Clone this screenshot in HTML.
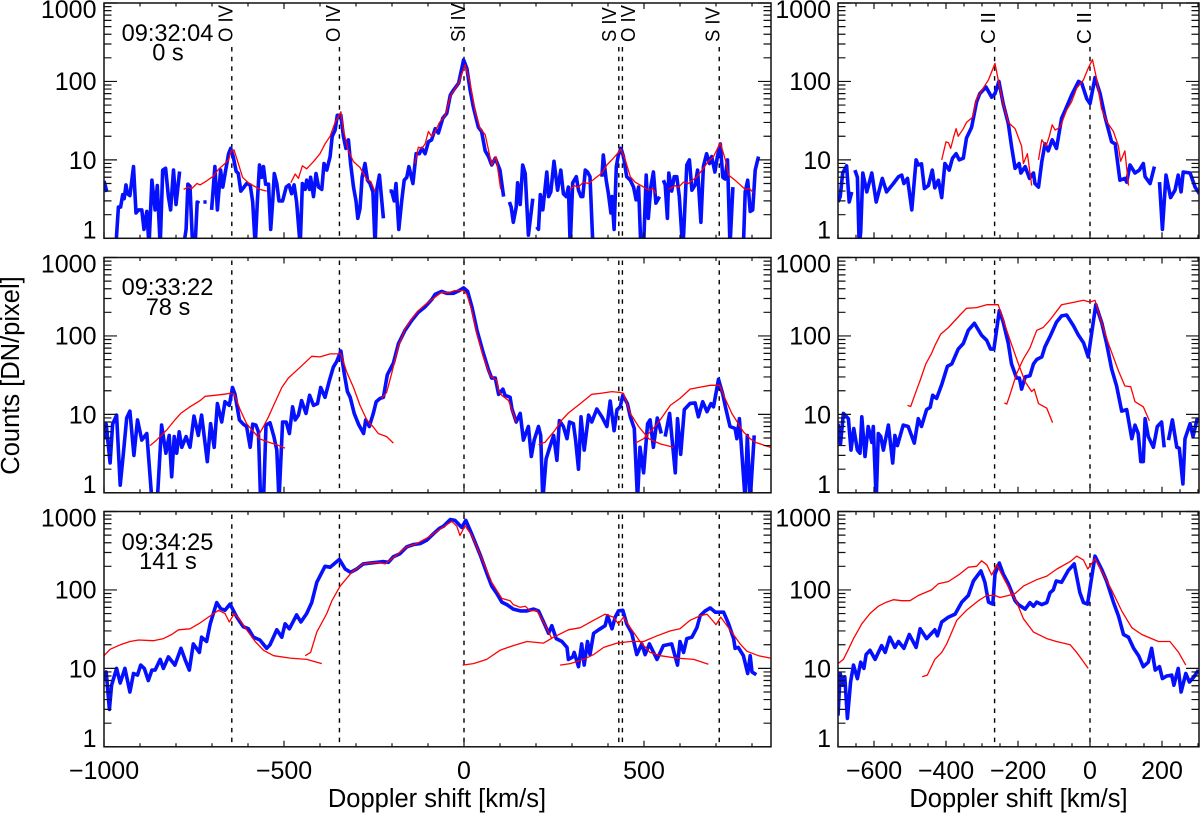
<!DOCTYPE html>
<html lang="en">
<head>
<meta charset="utf-8">
<title>Doppler shift spectra</title>
<style>
html,body{margin:0;padding:0;background:#fff;width:1200px;height:813px;overflow:hidden}
svg{display:block}
text{font-family:"Liberation Sans",sans-serif;fill:#000}
</style>
</head>
<body>
<svg id="chart" xmlns="http://www.w3.org/2000/svg" width="1200" height="813" viewBox="0 0 1200 813">
<rect width="1200" height="813" fill="#fff"/>
<g id="marks"></g>
<g font-size="23.6" text-anchor="middle">
<text x="167.5" y="41">09:32:04</text>
<text x="168" y="60.5">0 s</text>
<text x="167.5" y="295">09:33:22</text>
<text x="168" y="315">78 s</text>
<text x="167.5" y="550">09:34:25</text>
<text x="168" y="569">141 s</text>
</g>
<g font-size="20.5">
<text transform="translate(232.5,42) rotate(-90) scale(.9,1)">O IV</text>
<text transform="translate(340,42) rotate(-90) scale(.9,1)">O IV</text>
<text transform="translate(465,42) rotate(-90) scale(.9,1)">Si IV</text>
<text transform="translate(616,42) rotate(-90) scale(.9,1)">S IV</text>
<text transform="translate(635,42) rotate(-90) scale(.9,1)">O IV</text>
<text transform="translate(719.5,42) rotate(-90) scale(.9,1)">S IV</text>
<text transform="translate(995,44) rotate(-90)">C II</text>
<text transform="translate(1091,44) rotate(-90)">C II</text>
</g>
<text x="437" y="807" font-size="25.5" text-anchor="middle">Doppler shift [km/s]</text>
<text x="1018.5" y="807" font-size="25.5" text-anchor="middle">Doppler shift [km/s]</text>
<text transform="translate(19,375.5) rotate(-90)" font-size="25.5" text-anchor="middle">Counts [DN/pixel]</text>
</svg>
<script>
const blueTopLeft=[[-1000,5.4],[-992,3.9],null,[-967,.8],[-960,2.5],[-954,2.5],[-948,3.6],[-944,3.2],[-939,4.8],[-935,3.7],[-928,3.5],[-918,8.2],[-911,2.1],[-904,2.3],[-895,2.3],[-889,1.3],[-881,2.2],[-875,.8],[-867,5.5],[-858,2.3],[-852,4.7],[-844,.8],[-837,7.4],[-829,7.8],[-821,3.4],[-815,2.3],[-807,7.4],[-800,2.7],[-790,7.1],null,[-779,.8],[-772,1.3],[-767,4.9],[-761,4.6],[-754,.8],[-747,.8],[-741,2.9],[-735,2.8],null,[-724,2.9],[-715,2.9],null,[-701,2.3],[-692,8.2],[-685,2.3],[-676,7.4],[-670,4.5],[-661,7.8],[-654,12],[-648,14],[-641,11],[-633,7.2],[-627,6.7],[-620,4],[-611,4.5],[-604,5],[-594,4.8],[-587,2.9],[-580,.8],[-574,3],[-568,8.6],[-562,6],[-557,8.2],[-551,4.9],[-543,4.9],[-537,1.3],[-531,3.1],[-527,6.7],[-520,5],[-514,3],[-504,3],[-494,4.5],[-486,4.8],[-479,3.7],[-472,4.8],[-465,2.9],[-455,.8],[-449,5],[-441,4.2],[-437,5.5],[-429,4.2],[-426,6],[-418,3.4],[-411,6.7],[-404,4.5],[-395,4.2],[-389,9],[-381,7.4],[-372,11],[-366,20],[-358,24],[-352,37],[-342,37],[-335,20],[-328,14],[-321,18],[-315,9],[-307,4.5],[-300,3],[-295,1.8],[-289,2.4],[-283,6],[-275,9],[-268,5.5],[-261,5],[-253,3.9],[-247,.8],[-242,4.3],[-235,6.4],[-224,1.8],null,[-207,4],[-201,4],[-194,3],[-189,5],[-181,1.3],[-173,3],[-166,5.5],[-159,6],[-153,8.2],[-142,5],[-133,12],[-124,12],[-117,14],[-108,12],[-99,17],[-90,18],[-80,25],[-71,22],[-59,34],[-48,39],[-38,67],[-29,78],[-15,95],[-1,188],[8,146],[17,78],[26,47],[40,26],[49,23],[59,13],[68,11],[77,8.6],[87,10.5],[100,7.4],[110,3.4],null,[126,2.9],[131,2.5],[137,1.6],[145,2.5],[149,5.1],[156,2.7],[163,8.6],[170,6.7],[179,1.1],[184,1.7],[191,3.2],null,[202,1.4],[207,1.3],[212,3.6],[219,2.3],[230,7],[235,3.4],[241,3.9],[250,9.6],[260,4.1],[269,7.4],[276,3.7],[284,3.4],[290,4.5],[295,.8],[302,5.1],[312,6.1],[318,4.1],[325,3.4],[330,3.4],[337,7.4],[343,7],[350,6.1],[358,.8],null,[383,6.1],[387,11.5],[395,5.5],[401,3.7],[408,2.1],[411,3.4],[417,1.3],[423,8.2],[429,11.5],[436,14],[443,11],[452,6.1],[462,5.5],[471,4.5],[478,3.1],[485,4.5],[491,.8],[499,.8],[506,6.4],[512,1.8],[519,4.5],[526,7],[533,2.8],[543,3.4],null,[554,5.5],[559,4.8],[565,1.8],[569,6.8],[577,4],[584,6.1],[591,6.1],[598,3.4],[607,.8],[610,1.1],[619,8.6],[626,10],[633,4.1],[642,4.8],[649,7.4],[658,1.6],[665,8.2],[674,12],[682,9],[688,11],[697,7],[704,11],[712,16],[719,6],[725,5.7],[732,10],[739,.8],[747,4.5],null,[776,.8],[781,3.9],[788,5.5],[795,2.2],[802,2.3],[809,7.4],[818,11]];
const redTopLeft=[[-779,4.2],[-766,4.5],[-756,4.3],[-742,5],[-733,4.8],[-715,5.4],[-696,6.2],[-682,7.6],[-664,9],[-654,10],[-647,13],[-639,13.4],[-630,10],[-615,6],[-599,5.1],[-567,4.2],[-548,4],null,[-481,5.1],[-469,6.6],[-460,5.8],[-449,8.4],[-437,7.7],[-418,9.5],[-400,12],[-386,16],[-372,20],[-358,30],[-342,41],[-335,24],[-321,13],[-307,9.5],[-289,8],[-270,5.6],[-259,5.3],[-247,3.9],null,[-136,9],[-127,14.5],[-117,14],[-108,16],[-99,23],[-90,20],[-80,23],[-68,30],[-52,37],[-37,67],[-15,95],[3,163],[17,95],[31,41],[45,25],[59,21],[77,8.6],[89,11],[102,4.2],null,[295,4.2],[306,4.7],[318,4.5],[332,5.2],[346,5],[364,5.8],[383,6.8],[397,8.6],[415,10.5],[436,13.6],[448,10],[462,6.1],[475,5.2],[499,4.5],[513,4.1],[525,4.3],[534,3.7],null,[568,4.2],[586,4.7],[596,4.5],[610,5.2],[623,5],[647,6.1],[665,7.8],[679,9.6],[693,11],[712,16.5],[726,10],[735,6.4],[753,5.5],[781,4.2],[793,4.3],[804,3.8]];
const blueTopRight=[[-700,2.9],[-694,3.4],[-687,6.8],[-676,8.4],[-669,2.9],[-662,3.9],null,[-653,7.4],[-646,6],[-641,.8],[-637,1.2],[-631,6.8],[-620,3.9],[-606,6.8],[-594,2.9],[-577,5.8],[-565,3.9],[-546,5],[-532,6.1],[-523,6.4],[-517,5],[-507,5.8],[-495,2.3],[-483,10],[-477,8.6],[-468,8.9],[-460,4.3],[-449,4.7],[-438,7.4],[-431,4.4],[-421,5.5],[-412,3.3],[-403,9],[-391,7.4],[-382,10.5],[-372,12],[-363,10],[-352,10.5],[-343,19],[-329,26],[-315,55],[-306,70],[-289,85],[-273,63],[-264,70],[-253,100],[-241,52],[-227,29],[-218,15],[-208,7.8],[-197,9],[-192,6.8],[-180,8.2],[-168,5.8],[-157,6.8],[-153,5],[-143,4.5],[-134,9.5],[-125,16],[-116,13],[-105,18],[-93,14],[-79,34],[-69,43],[-51,67],[-32,100],[-23,95],[-9,60],[0,52],[14,112],[28,70],[42,35],[60,17],[70,16],[83,5.5],[97,5.8],[102,5.2],[111,8.6],[125,6.8],[137,7.4],[148,9],[153,6.1],[167,5],[179,8.2],null,[193,5.2],[201,1.3],[211,6.4],[224,3.3],[236,4.1],[245,6.4],[253,3.9],[259,7],[278,6.8],[292,4.5],[304,3.7]];
const redTopRight=[[-412,10],[-400,17],[-393,16.5],[-387,14],[-379,19.5],[-372,25],[-366,20],[-352,25],[-343,30],[-326,35],[-315,60],[-296,83],[-282,105],[-264,170],[-255,105],[-241,52],[-227,30],[-208,25],[-190,15],[-185,9],[-174,12],[-162,4.7],null,[-143,10],[-134,18],[-122,15],[-113,20],[-105,28],[-97,24],[-83,26],[-65,43],[-51,55],[-37,82],[-18,105],[-5,147],[7,190],[19,105],[32,45],[46,31],[65,23],[79,15],[85,9.6],[97,13],[107,4.7]];
const blueMidLeft=[[-1000,4.8],[-994,7.5],[-983,2.4],[-976,7.5],[-965,9.8],[-955,1.25],[-946,3.2],[-937,9],[-928,11],[-917,3],[-907,8.5],[-895,4.7],[-881,5.7],[-867,.8],[-852,.8],[-840,7.3],[-828,3.2],[-819,5.4],[-812,1.6],[-805,5.2],[-798,3.2],[-791,6],[-784,3.8],[-772,5.2],[-761,3.8],[-750,9.5],[-738,5.4],[-729,9.8],[-713,2.5],[-704,7.6],[-694,3.8],[-685,13.7],[-673,8],[-664,14.5],[-652,13],[-643,22],[-636,18],[-624,8.5],[-613,7.5],[-604,7],[-594,3.8],[-587,7.5],[-578,7.3],[-571,6],[-565,.8],[-557,.8],[-550,7.3],[-539,7.8],[-528,5.2],[-520,3.5],[-514,.8],[-504,8],[-494,8],[-485,5.7],[-476,12.5],[-469,8.5],[-460,9.8],[-451,15],[-439,10.3],[-429,17.5],[-418,13],[-407,13.7],[-398,22],[-386,16.5],[-374,27],[-363,40],[-354,47],[-342,64],[-333,34],[-324,19.5],[-316,16.5],[-305,10.3],[-293,7.5],[-279,5.7],[-273,8.5],[-263,7],[-252,10.3],[-244,14.5],[-233,16],[-224,16.5],[-213,32],[-196,45],[-182,80],[-164,118],[-145,158],[-127,200],[-108,235],[-90,290],[-80,340],[-62,370],[-48,350],[-29,350],[-15,375],[-1,410],[10,370],[22,235],[36,118],[54,60],[68,37],[77,29],[87,29],[96,18],[108,21],[114,17.5],[128,16.5],[133,11.8],[145,8],[156,10.3],[165,4.7],[179,7],[187,2.9],[195,4.7],[207,7],[213,5.4],[219,.8],[228,2.7],[238,3.8],[249,5.4],[258,2.6],[265,8.3],[276,7],[286,4.9],[293,8],[304,7.6],[310,4.7],[318,2],[325,9.3],[334,3.5],[346,9.8],[355,8],[369,11.7],[383,9.3],[397,7],[406,14.8],[417,6.2],[425,11.5],[434,12.5],[441,17.5],[454,13.7],[462,9.3],[473,6.6],[482,.8],[489,3.8],[499,1.8],[510,7.6],[517,8.5],[526,3.8],[537,9],[548,5.7],null,[559,5.2],[571,10.3],[587,1.8],[593,8.8],[602,3.1],[612,11.5],[628,13.8],[642,14],[651,9.3],[663,14.5],[675,10.8],[686,13.7],[693,12.5],[707,28],[719,18],[726,12.5],[739,7],[753,6.6],[758,4.9],[765,8.8],[781,.8],[787,5.4],[795,.8],[806,5.4]];
const redMidLeft=[[-872,4],[-854,4.7],[-826,6.3],[-803,8.5],[-787,10.3],[-761,12.5],[-733,15],[-719,17],[-692,17.5],[-668,18],[-650,18.5],[-638,18],[-622,11.5],[-604,7.6],[-568,4.9],[-548,4.5],[-520,4.1],[-497,3.7],null,[-571,5.4],[-557,7],[-543,9.3],[-529,13],[-506,22],[-488,29],[-455,40],[-423,55],[-400,54],[-372,59],[-342,59],[-326,35],[-307,22],[-289,13],[-270,8.5],[-253,7],[-238,5.7],[-215,5.2],[-196,4.3],null,[-229,16],[-215,19],[-201,33],[-182,75],[-164,122],[-145,165],[-127,210],[-108,250],[-85,300],[-68,345],[-62,360],[-43,355],[-25,380],[-1,380],[8,340],[22,210],[36,105],[54,54],[73,31],[91,27],[96,20],[105,17.5],[124,15],[133,11.5],[145,8],null,[207,4.1],[225,4.4],[253,6.3],[272,8.5],[290,10.4],[323,13.7],[355,18],[378,18.5],[411,19.5],[434,19],[443,18.5],[462,10.3],[485,7],[513,4.9],[545,4.2],[582,3.8],null,[476,4.3],[499,4.9],[522,6.3],[545,8.5],[573,13],[600,16],[628,21],[651,22],[684,23.5],[710,23.5],[725,16],[744,10.3],[776,6],[795,4.9],[809,4.4],[851,3.8]];
const blueMidRight=[[-700,7.6],[-693,4.2],[-685,10.3],[-671,8.8],[-664,3.5],[-656,6.6],[-646,3.5],[-639,3.2],[-634,9.3],[-625,2.9],[-616,7],[-606,4.4],[-602,7],[-594,.8],[-588,5.7],[-581,5.2],[-574,3.5],[-560,7.3],[-548,2.4],[-542,5.4],[-535,4],[-519,7.3],[-505,7],[-488,4.3],[-477,8.8],[-468,7],[-454,11.5],[-444,12.3],[-437,17.5],[-426,16],[-412,24],[-396,41],[-384,44],[-366,68],[-352,80],[-338,118],[-321,145],[-301,102],[-287,88],[-276,68],[-267,68],[-252,210],[-241,150],[-227,80],[-218,44],[-204,29],[-196,29],[-190,21],[-180,30],[-167,31],[-157,44],[-148,50],[-134,54],[-125,73],[-111,98],[-93,150],[-79,180],[-65,185],[-46,135],[-32,102],[-18,82],[-5,54],[16,250],[33,145],[46,80],[60,38],[74,23],[88,11],[102,11.5],[116,4.9],[125,7.3],[134,5.7],[141,2.5],[148,2.5],[153,8.8],[162,5.2],[176,3.8],[187,7],[199,8],[206,3.8],null,[218,4.7],[229,8.5],[241,3.8],[248,3.7],[258,1.3],[264,4.9],[278,7.6],[286,5.2],[297,8.5],[304,8.5]];
const redMidRight=[[-507,13],[-498,12.6],[-486,18],[-472,27],[-456,44],[-440,60],[-431,75],[-415,105],[-393,128],[-361,185],[-343,225],[-315,230],[-287,250],[-264,250],[-255,250],[-241,160],[-222,88],[-199,44],[-180,26],[-162,19.5],[-155,21],[-143,13.7],[-120,12],[-104,7.8],null,[-238,14],[-231,13.5],[-222,18],[-204,33],[-185,51],[-167,70],[-148,118],[-130,128],[-111,160],[-79,250],[-51,265],[-18,285],[0,270],[14,285],[32,150],[51,80],[79,36],[97,23],[113,22.5],[125,14.5],[148,12.5],[165,8.3]];
const blueLowLeft=[[-1000,7],[-994,9],[-985,3],[-979,6.1],[-965,10],[-955,6.5],[-942,10],[-928,5],[-918,8.6],[-907,8.2],[-898,11],[-888,10],[-877,7],[-867,9.5],[-858,9.5],[-844,13],[-835,10],[-821,14],[-803,11],[-786,18],[-775,13],[-763,9.5],[-752,20.5],[-735,16],[-729,25],[-715,22],[-705,37],[-687,69],[-676,58],[-664,55],[-650,66],[-631,45],[-613,34],[-599,32],[-585,25],[-567,23],[-548,18],[-539,20],[-520,31],[-506,25],[-497,37],[-485,32],[-465,48],[-453,39],[-437,50],[-423,69],[-409,125],[-386,200],[-372,195],[-346,245],[-330,185],[-315,168],[-298,185],[-280,215],[-261,220],[-242,225],[-224,230],[-210,225],[-196,265],[-178,290],[-159,355],[-140,380],[-122,390],[-104,430],[-85,520],[-68,610],[-57,650],[-38,790],[-25,770],[-6,625],[5,770],[22,510],[45,280],[63,165],[77,112],[91,90],[105,70],[119,65],[137,57],[156,54],[175,54],[193,57],[207,54],[221,39],[235,28],[244,35],[256,24],[272,22],[286,18.5],[290,13],[302,14],[306,16],[318,10.5],[327,20.5],[334,11],[343,22],[350,15],[360,28],[374,31],[392,35],[399,47],[411,32],[420,45],[429,54],[441,55],[452,37],[466,28],[480,15],[494,20.5],[503,15],[515,20.5],[536,13],[554,19.5],[577,20.5],[593,11],[600,22],[610,16],[619,24],[633,25],[647,33],[656,47],[670,54],[684,59],[698,52],[721,52],[735,37],[749,24],[753,18],[762,18.5],[776,14.5],[788,8.6],[795,14.5],[800,9],[812,8.3]];
const redLowLeft=[[-1000,14.5],[-983,17.5],[-955,20],[-928,22],[-904,23],[-863,22.5],[-835,24],[-812,27],[-793,31],[-761,32],[-733,38],[-710,45],[-682,55],[-664,50],[-652,39],[-638,50],[-622,41],[-604,31],[-580,22],[-557,17],[-529,14.5],[-483,13.5],[-437,13],[-395,11.5],null,[-441,14.5],[-426,16],[-409,29],[-381,50],[-367,73],[-344,112],[-312,168],[-280,215],[-242,225],[-219,215],[-191,270],[-159,355],[-131,390],[-99,470],[-68,590],[-52,660],[-34,750],[-20,650],[-11,495],[3,660],[22,495],[45,280],[77,125],[105,78],[128,73],[137,65],[156,60],[170,62],[184,54],[202,55],[221,39],[244,24],null,[-4,11],[26,11.5],[63,13],[100,17],[137,19.5],[175,22],[221,21],[249,25],[290,31],[323,33],[360,41],[392,49],[415,45],[429,37],[443,45],[462,33],[489,22],[517,16],[545,14.5],[591,13.5],[638,13],[679,11.3],null,[267,11],[295,11.5],[332,13],[360,15],[388,18.5],[425,21],[462,22],[499,22],[536,26],[573,30],[600,32],[628,41],[656,47],[675,49],[688,42],[700,36],[713,45],[739,31],[767,20.5],[786,16.5],[818,14.5],[851,13.5]];
const blueLowRight=[[-700,2.5],[-694,8.6],[-687,6.1],[-681,7.8],[-674,2.3],[-665,6.7],[-657,11],[-646,7.4],[-637,12],[-628,10],[-622,15],[-611,17],[-597,13],[-579,19.5],[-569,16],[-556,25],[-542,18.5],[-532,22],[-517,18],[-502,27],[-483,18.5],[-472,32],[-454,24],[-431,31],[-424,26],[-412,39],[-393,45],[-375,49],[-356,70],[-338,85],[-324,130],[-303,175],[-292,125],[-282,70],[-270,66],[-264,160],[-252,220],[-241,160],[-227,120],[-208,73],[-199,65],[-180,57],[-167,69],[-157,62],[-148,70],[-134,65],[-120,69],[-111,92],[-102,100],[-94,130],[-79,125],[-60,178],[-44,215],[-28,92],[-18,69],[-7,66],[14,270],[32,185],[46,130],[65,70],[79,47],[93,27],[107,25],[121,18],[135,14.5],[148,10.5],[162,12],[171,18],[181,9.5],[193,10.5],[201,7.4],[213,8],[227,8.2],[233,6.1],[245,10],[253,5],[266,8.6],[276,6.7],[289,7.8],[301,9.5]];
const redLowRight=[[-700,11.5],[-685,13],[-671,17.5],[-657,24],[-634,37],[-611,50],[-588,62],[-565,70],[-546,75],[-523,73],[-500,73],[-477,85],[-440,100],[-421,120],[-393,128],[-361,160],[-338,195],[-315,200],[-301,235],[-287,210],[-273,155],[-259,210],[-241,145],[-218,92],[-204,70],[-185,43],[-157,29],[-120,24],[-93,22],[-55,20],[-37,16],[-5,10],null,[-466,7.8],[-452,8.2],[-431,13],[-412,16],[-398,20.5],[-370,41],[-343,55],[-310,73],[-287,85],[-264,85],[-250,80],[-227,85],[-208,90],[-185,112],[-148,135],[-120,150],[-92,185],[-55,230],[-37,270],[-18,240],[-6,185],[14,250],[37,160],[60,100],[88,54],[116,33],[144,27],[171,24],[190,22],[222,22],[246,16],[266,11]];

const linePositionsLeft=[-645,-346,0,430,440,709];
const linePositionsRight=[-265,0];
const xMajorLeft=[-1000,-500,0,500];
const xMajorLeftLabels=["−1000","−500","0","500"];
const xMajorRight=[-600,-400,-200,0,200];
const xMajorRightLabels=["−600","−400","−200","0","200"];
const yDecades=[1,10,100,1000];
const yDecadeLabels=["1","10","100","1000"];
const yMinorFactors=[2,3,4,5,6,7,8,9];

const SVGNS='http://www.w3.org/2000/svg';
const root=document.getElementById('marks');
const PX_PER_KMS=0.36;
const DECADE=78.43;
const PANEL_H=235.3;
const LABEL_BASE_OFFSET=[0,9,8.5,15];
const rows=[{name:'top',bottom:238.3},{name:'middle',bottom:492.8},{name:'bottom',bottom:746.8}];
const cols=[
 {name:'left',x0:464,left:104,right:771,major:xMajorLeft,labels:xMajorLeftLabels,minorStep:100,lines:linePositionsLeft,labelEnd:96.5},
 {name:'right',x0:1090,left:838,right:1199,major:xMajorRight,labels:xMajorRightLabels,minorStep:50,lines:linePositionsRight,labelEnd:831}
];
const seriesData={top:{left:[blueTopLeft,redTopLeft],right:[blueTopRight,redTopRight]},middle:{left:[blueMidLeft,redMidLeft],right:[blueMidRight,redMidRight]},bottom:{left:[blueLowLeft,redLowLeft],right:[blueLowRight,redLowRight]}};

function xScale(col,v){return col.x0+PX_PER_KMS*v;}
function yScale(row,c){return row.bottom-DECADE*Math.log10(c);}
function mk(tag,attrs,parent){const e=document.createElementNS(SVGNS,tag);for(const k in attrs)e.setAttribute(k,attrs[k]);parent.appendChild(e);return e;}
function pathFrom(series,col,row){let d='',pen=false;for(const p of series){if(p===null){pen=false;continue;}d+=(pen?'L':'M')+xScale(col,p[0]).toFixed(1)+' '+yScale(row,p[1]).toFixed(1);pen=true;}return d;}

const defs=mk('defs',{},root);
rows.forEach(function(row,ri){
 cols.forEach(function(col){
  const id='clip-'+row.name+'-'+col.name;
  const top=row.bottom-PANEL_H;
  const cp=mk('clipPath',{id:id},defs);
  mk('rect',{x:col.left,y:top,width:col.right-col.left,height:PANEL_H},cp);
  const g=mk('g',{},root);
  
  

  // reference-line dashes
  const dashTop=(ri===0)?47:top+3;
  col.lines.forEach(function(v){
   const l=mk('line',{x1:xScale(col,v),x2:xScale(col,v),y1:dashTop,y2:row.bottom,stroke:'#000','stroke-width':1.4,'stroke-dasharray':'4.5 5.2'},g);
   
   
  });

  // series
  const pair=seriesData[row.name][col.name];
  const plot=mk('g',{'clip-path':'url(#'+id+')'},g);
  const b=mk('path',{d:pathFrom(pair[0],col,row),fill:'none',stroke:'#0510ff','stroke-width':3.6,'stroke-linejoin':'round','stroke-linecap':'butt'},plot);
  
  
  const r=mk('path',{d:pathFrom(pair[1],col,row),fill:'none',stroke:'#f00','stroke-width':1.3,'stroke-linejoin':'round'},plot);
  
  

  // frame
  const f=mk('rect',{x:col.left,y:top,width:col.right-col.left,height:PANEL_H,fill:'none',stroke:'#111','stroke-width':1.5},g);
  
  

  // ticks
  let d='';
  const vMin=(col.left-col.x0)/PX_PER_KMS, vMax=(col.right-col.x0)/PX_PER_KMS;
  for(let v=Math.ceil(vMin/col.minorStep)*col.minorStep;v<=vMax;v+=col.minorStep){
   const maj=col.major.indexOf(v)>=0, len=maj?6:3.5, x=xScale(col,v);
   d+='M'+x+' '+row.bottom+'v'+(-len)+'M'+x+' '+top+'v'+len;
  }
  yDecades.forEach(function(dec,i){
   const y=yScale(row,dec);
   d+='M'+col.left+' '+y+'h13M'+col.right+' '+y+'h-13';
   if(i<yDecades.length-1)yMinorFactors.forEach(function(m){
    const ym=yScale(row,dec*m);
    d+='M'+col.left+' '+ym+'h7.5M'+col.right+' '+ym+'h-7.5';
   });
  });
  const t=mk('path',{d:d,fill:'none',stroke:'#111','stroke-width':1.2},g);
  
  

  // y labels
  yDecades.forEach(function(dec,i){
   const y=yScale(row,dec);
   const lab=mk('text',{x:col.labelEnd,y:y+LABEL_BASE_OFFSET[i],'font-size':25,'text-anchor':'end'},g);
   lab.textContent=yDecadeLabels[i];
   
   
  });

  // x labels
  if(ri===2){
   col.major.forEach(function(v,i){
    const lab=mk('text',{x:xScale(col,v),y:779,'font-size':25,'text-anchor':'middle'},g);
    lab.textContent=col.labels[i];
    
    
   });
  }
 });
});
</script>
</body>
</html>
